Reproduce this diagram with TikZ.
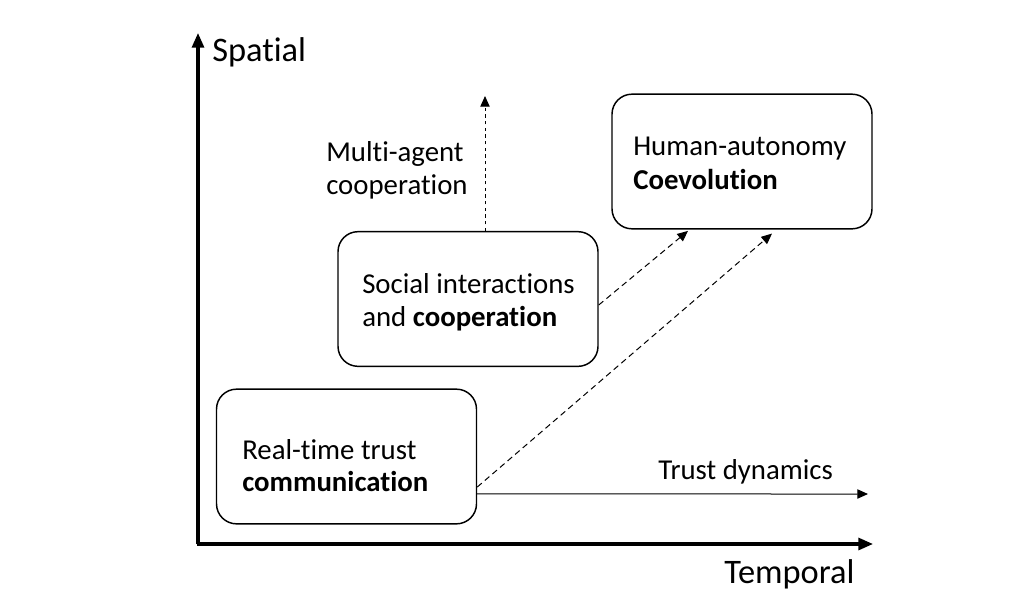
\documentclass[tikz,border=0pt]{standalone}
\usepackage{fontspec}
\setmainfont{Carlito}[Ligatures={NoCommon}]
\usetikzlibrary{arrows.meta}
\begin{document}
\begin{tikzpicture}[x=0.75pt,y=-0.75pt,
  box/.style={draw,line width=1.1pt,rounded corners=15pt,minimum width=195pt,minimum height=101pt,inner sep=0pt},
  txt/.style={inner sep=0pt,anchor=base west,font=\fontsize{21.6pt}{25pt}\selectfont},
  axlabel/.style={inner sep=0pt,anchor=base west,font=\fontsize{25.8pt}{30pt}\selectfont},
  axis/.style={line width=2.3pt,-{Triangle[length=11pt,width=9pt]}},
  dashconn/.style={line width=0.75pt,dash pattern=on 4.5pt off 3pt,-{Triangle[length=8pt,width=7pt]}},
  dotconn/.style={line width=0.75pt,dash pattern=on 2.5pt off 2.5pt,-{Triangle[length=8pt,width=7pt]}},
  solconn/.style={line width=0.75pt,-{Triangle[length=8pt,width=7pt]}}]
\useasboundingbox (0,0) rectangle (1024,600);
% axes
\coordinate (origin) at (198,544);
\coordinate (ytip) at (198,33);
\coordinate (xtip) at (873,544);
\draw[axis] (origin) -- (ytip);
\draw[axis] ([xshift=-1.1pt]origin) -- (xtip);
\node[axlabel] (spatial) at (212,61) {Spatial};
\node[axlabel] (temporal) at (724,583) {Temporal};
% boxes
\node[box] (box1) at (346.5,456.5) {};
\node[box] (box2) at (468,299) {};
\node[box] (box3) at (742,161.5) {};
% box texts
\node[txt] (t1a) at (242,459) {Real-time trust};
\node[txt] (t1b) at (242,491) {\bfseries communication};
\node[txt] (t2a) at (362,293) {Social interactions};
\node[txt] (t2b) at (362,326) {and \bfseries cooperation};
\node[txt] (t3a) at (633,155) {Human-autonomy};
\node[txt] (t3b) at (633,189) {\bfseries Coevolution};
\node[txt] (t4a) at (326,161) {Multi-agent};
\node[txt] (t4b) at (326,194) {cooperation};
\node[txt] (t5) at (658,479) {Trust dynamics};
% connectors
\coordinate (mtip) at (485,96);
\coordinate (ttip) at (868,494);
\draw[dotconn] ([xshift=12.75pt]box2.north) -- (mtip);
\draw[dashconn] ([yshift=-4.5pt]box2.east) -- ([xshift=-40.5pt,yshift=-1pt]box3.south);
\draw[dashconn] ([yshift=-22.9pt]box1.east) -- ([xshift=22.5pt,yshift=-3pt]box3.south);
\draw[solconn] ([yshift=-28.1pt]box1.east) -- (ttip);
\end{tikzpicture}
\end{document}
